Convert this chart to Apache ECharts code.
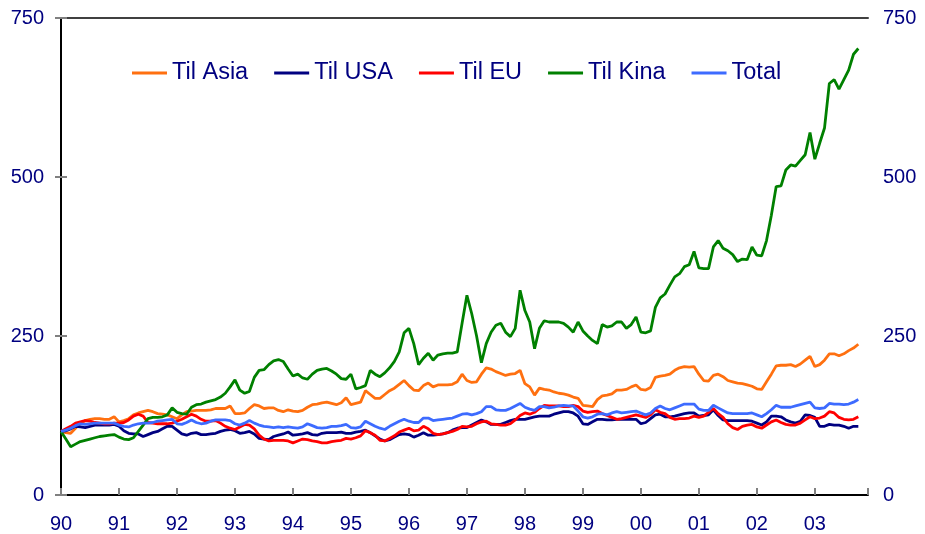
<!DOCTYPE html>
<html>
<head>
<meta charset="utf-8">
<title>Eksport</title>
<script src="https://cdn.jsdelivr.net/npm/echarts@6/dist/echarts.min.js"></script>
<style>
	html, body { margin: 0; padding: 0; background: #fff; }
	#chart { width: 925px; height: 534px; }
</style>
</head>
<body>
<div id="chart"></div>
<script>
// 年份刻度标签 (每12个月一个)
var yearLabels = ['90', '91', '92', '93', '94', '95', '96', '97', '98', '99', '00', '01', '02', '03'];

// 月度数据, 1990年1月 = 100
var tilAsia = [
	100, 98, 97, 105, 112, 117, 119, 120, 120, 119, 119, 123,
	115, 117, 120, 126, 129, 131, 133, 131, 128, 127, 126, 123,
	120, 126, 131, 132, 133, 133, 133, 134, 136, 136, 136, 140,
	128, 128, 129, 136, 142, 140, 136, 137, 137, 133, 131, 134,
	132, 131, 133, 138, 142, 143, 145, 146, 144, 142, 145, 153,
	142, 144, 146, 164, 158, 152, 152, 158, 164, 168, 174, 180,
	172, 165, 164, 172, 176, 170, 173, 173, 173, 174, 178, 190,
	180, 177, 178, 190, 200, 198, 194, 191, 188, 190, 191, 196,
	175, 170, 157, 168, 166, 165, 162, 160, 159, 157, 154, 152,
	141, 140, 139, 150, 156, 157, 159, 165, 165, 166, 170, 173,
	166, 165, 169, 185, 187, 188, 190, 196, 200, 202, 201, 202,
	190, 180, 179, 188, 190, 186, 180, 178, 176, 175, 173, 171,
	167, 166, 178, 190, 203, 204, 204, 205, 202, 206, 212, 218,
	202, 205, 212, 222, 222, 219, 222, 227, 231, 237
];

var tilUSA = [
	100, 101, 104, 108, 107, 106, 108, 110, 110, 110, 110, 111,
	108, 101, 97, 96, 96, 92, 95, 98, 100, 104, 108, 108,
	102, 96, 94, 97, 98, 95, 95, 96, 97, 100, 102, 103,
	101, 97, 98, 100, 96, 89, 88, 87, 92, 94, 96, 99,
	94, 95, 96, 98, 95, 94, 97, 98, 98, 98, 99, 97,
	97, 99, 100, 102, 98, 93, 88, 85, 87, 91, 95, 96,
	95, 91, 94, 98, 94, 94, 95, 96, 98, 102, 105, 106,
	106, 110, 114, 118, 115, 111, 111, 111, 114, 117, 119, 119,
	119, 121, 123, 124, 124, 124, 127, 129, 131, 131, 129, 124,
	112, 111, 115, 119, 119, 118, 118, 119, 119, 119, 119, 119,
	112, 114, 120, 126, 127, 123, 123, 124, 126, 128, 129, 129,
	124, 125, 126, 134, 125, 118, 117, 117, 117, 117, 117, 116,
	113, 110, 115, 124, 124, 123, 118, 115, 113, 116, 126, 125,
	122, 108, 108, 111, 110, 110, 108, 105, 108, 108
];

var tilEU = [
	100, 104, 108, 113, 115, 117, 116, 114, 113, 112, 112, 113,
	113, 114, 118, 124, 127, 124, 114, 113, 112, 112, 112, 113,
	116, 119, 123, 127, 124, 119, 116, 116, 117, 113, 108, 105,
	103, 107, 111, 110, 104, 94, 88, 85, 86, 86, 86, 85,
	82, 85, 88, 87, 85, 84, 82, 82, 84, 85, 86, 89,
	88, 90, 93, 101, 98, 94, 86, 85, 89, 93, 99, 102,
	105, 101, 102, 108, 104, 97, 95, 96, 98, 100, 103, 108,
	107, 108, 112, 115, 116, 112, 111, 110, 110, 112, 118, 125,
	129, 127, 130, 136, 141, 140, 140, 140, 139, 139, 141, 139,
	132, 130, 131, 132, 128, 125, 122, 119, 120, 122, 124, 126,
	124, 122, 126, 134, 130, 128, 122, 119, 120, 120, 121, 124,
	122, 124, 130, 136, 128, 122, 112, 106, 103, 108, 110, 111,
	107, 105, 110, 115, 118, 114, 111, 110, 110, 113, 118, 123,
	120, 121, 124, 131, 129, 122, 119, 118, 119, 123
];

var tilKina = [
	100, 88, 76, 80, 84, 86, 88, 90, 92, 93, 94, 95,
	91, 88, 87, 90, 100, 110, 120, 122, 122, 123, 126, 137,
	130, 128, 127, 138, 142, 143, 146, 148, 150, 154, 160, 170,
	181, 165, 160, 163, 185, 196, 197, 205, 211, 213, 210, 198,
	187, 190, 184, 182, 190, 196, 198, 199, 195, 190, 183, 182,
	190, 167, 169, 172, 196, 190, 186, 192, 200, 210, 225, 255,
	262, 238, 205, 215, 223, 212, 220, 222, 223, 223, 225, 270,
	314, 285, 250, 208, 238, 256, 267, 270, 256, 249, 262, 322,
	290, 272, 230, 262, 274, 272, 272, 272, 270, 264, 256, 272,
	258, 250, 243, 238, 268, 264, 266, 272, 272, 262, 268, 280,
	256, 255, 258, 295, 310, 316, 330, 343, 348, 359, 362, 383,
	357, 356, 356, 390, 400, 388, 384, 378, 367, 371, 370, 390,
	377, 376, 400, 440, 485, 486, 511, 519, 517, 526, 535, 570,
	528, 553, 577, 647, 653, 638, 653, 668, 693, 702
];

var total = [
	100, 102, 105, 109, 112, 111, 112, 113, 113, 113, 113, 113,
	110, 108, 107, 110, 112, 113, 113, 114, 116, 117, 118, 119,
	112, 111, 114, 118, 114, 112, 113, 116, 118, 118, 118, 117,
	112, 110, 113, 117, 113, 110, 108, 107, 106, 107, 106, 107,
	106, 105, 107, 112, 109, 106, 105, 106, 108, 108, 109, 111,
	106, 105, 107, 116, 112, 108, 105, 103, 108, 112, 116, 119,
	116, 114, 114, 121, 121, 117, 118, 119, 120, 121, 124, 127,
	128, 126, 128, 131, 139, 139, 134, 133, 133, 136, 140, 144,
	138, 135, 133, 139, 139, 137, 138, 140, 141, 140, 140, 132,
	123, 121, 123, 127, 128, 126, 129, 131, 129, 130, 131, 132,
	129, 126, 129, 136, 140, 136, 134, 137, 140, 143, 143, 143,
	135, 133, 133, 141, 137, 133, 129, 128, 128, 128, 128, 129,
	126, 123, 128, 134, 141, 138, 138, 138, 140, 142, 144, 146,
	137, 136, 137, 144, 143, 143, 142, 143, 146, 150
];

var seriesNames = ['Til Asia', 'Til USA', 'Til EU', 'Til Kina', 'Total'];
var seriesColors = ['#ff7010', '#000080', '#ff0000', '#008000', '#3d6bff'];
var seriesData = [tilAsia, tilUSA, tilEU, tilKina, total];

var fontName = '"Liberation Sans", Arial, sans-serif';
var labelColor = '#000080';

// 月份序号 -> [x, y]
function toPoints(arr) {
	return arr.map(function(v, i) { return [i, v]; });
}

var myChart = echarts.init(document.getElementById('chart'));

var yAxisCommon = {
	type : 'value',
	min : 0,
	max : 750,
	interval : 250,
	axisLine : { show : true, lineStyle : { color : '#000', width : 2 } },
	axisTick : { show : true, inside : true, length : 6, lineStyle : { color : '#808080', width : 2 } },
	splitLine : { show : false },
	axisLabel : { color : labelColor, fontSize : 20, fontFamily : fontName }
};

var option = {
	animation : false,
	backgroundColor : '#fff',
	grid : { left : 61, right : 57, top : 18, bottom : 39 },
	legend : {
		left : 127,
		top : 56,
		icon : 'rect',
		itemWidth : 35,
		itemHeight : 3,
		itemGap : 26,
		data : seriesNames,
		textStyle : { color : labelColor, fontSize : 23.5, fontFamily : fontName }
	},
	xAxis : [ {
		type : 'value',
		min : 0,
		max : 167,
		interval : 12,
		axisLine : { show : true, onZero : false, lineStyle : { color : '#000', width : 2 } },
		axisTick : { show : true, inside : true, length : 7, lineStyle : { color : '#808080', width : 2 } },
		splitLine : { show : false },
		axisLabel : {
			color : labelColor,
			fontSize : 20,
			fontFamily : fontName,
			margin : 19,
			formatter : function(v) {
				if (v % 12 !== 0) return '';
				return yearLabels[v / 12] || '';
			}
		}
	}, {
		// 顶部边框
		type : 'value',
		position : 'top',
		min : 0,
		max : 167,
		axisLine : { show : true, onZero : false, lineStyle : { color : '#404040', width : 2 } },
		axisTick : { show : false },
		axisLabel : { show : false },
		splitLine : { show : false }
	} ],
	yAxis : [
		echarts.util.merge({ position : 'left', axisLabel : { margin : 17 } }, yAxisCommon, true),
		echarts.util.merge({ position : 'right', axisLabel : { margin : 15 } }, yAxisCommon, true)
	],
	series : seriesNames.map(function(name, k) {
		return {
			name : name,
			type : 'line',
			data : toPoints(seriesData[k]),
			showSymbol : false,
			symbol : 'none',
			color : seriesColors[k],
			lineStyle : { width : 2.8, color : seriesColors[k] }
		};
	})
};

myChart.setOption(option);
</script>
</body>
</html>
